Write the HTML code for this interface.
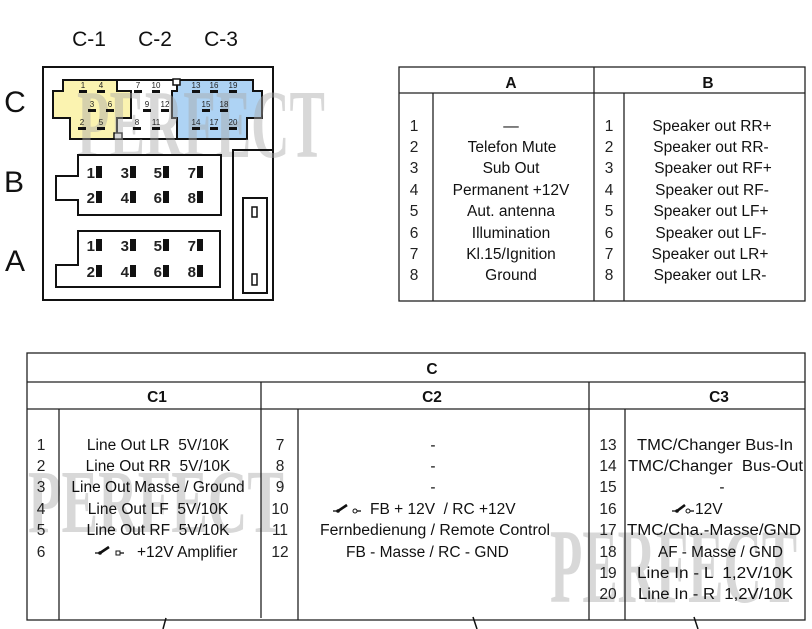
<!DOCTYPE html>
<html>
<head>
<meta charset="utf-8">
<style>
  html,body{margin:0;padding:0;background:#fff;}
  svg{display:block;}
  .t{font-family:"Liberation Sans",Arial,sans-serif;font-size:15.5px;fill:#111;white-space:pre;}
  .n{font-family:"Liberation Sans",Arial,sans-serif;font-size:15.5px;fill:#222;}
  .h{font-family:"Liberation Sans",Arial,sans-serif;font-size:15.5px;font-weight:bold;fill:#111;}
  .pn{font-family:"Liberation Sans",Arial,sans-serif;font-size:8px;fill:#222;text-anchor:middle;}
  .bn{font-family:"Liberation Sans",Arial,sans-serif;font-size:15px;font-weight:bold;fill:#222;text-anchor:end;}
  .wm{font-family:"Liberation Serif","DejaVu Serif",serif;font-weight:bold;fill:#a8a8a8;fill-opacity:0.45;}
</style>
</head>
<body>
<svg width="812" height="629" viewBox="0 0 812 629" xmlns="http://www.w3.org/2000/svg" xml:space="preserve">
  <rect x="0" y="0" width="812" height="629" fill="#fff"/>

  <!-- ===== Connector diagram ===== -->
  <g font-family="Liberation Sans, Arial, sans-serif" fill="#111">
    <text x="89" y="46" font-size="21" text-anchor="middle">C-1</text>
    <text x="155" y="46" font-size="21" text-anchor="middle">C-2</text>
    <text x="221" y="46" font-size="21" text-anchor="middle">C-3</text>
    <text x="15" y="112" font-size="30" text-anchor="middle">C</text>
    <text x="14" y="192" font-size="30" text-anchor="middle">B</text>
    <text x="15" y="271" font-size="30" text-anchor="middle">A</text>
  </g>

  <!-- outer box -->
  <rect x="43" y="67" width="230" height="233" fill="none" stroke="#111" stroke-width="2"/>

  <!-- C connector -->
  <polygon points="117,80 177,80 177,139 117,139" fill="#fff" stroke="#111" stroke-width="1.5"/>
  <polygon points="63,80 117,80 117,91 131,91 131,118 117,118 117,139 70,139 70,118 53,118 53,91 63,91" fill="#fbf3b0" stroke="#111" stroke-width="2"/>
  <polygon points="177,80 253,80 253,91 262,91 262,118 247,118 247,139 177,139 177,118 172,118 172,91 177,91" fill="#aed3f4" stroke="#111" stroke-width="2"/>
  <line x1="63" y1="80" x2="253" y2="80" stroke="#111" stroke-width="2"/>
  <line x1="70" y1="139" x2="247" y2="139" stroke="#111" stroke-width="2"/>
  <rect x="173" y="79" width="7" height="6" fill="#fff" stroke="#111" stroke-width="1.5"/>
  <rect x="114" y="133" width="8" height="6" fill="#fff" stroke="#111" stroke-width="1.5"/>

  <!-- top watermark -->
  <text class="wm" x="77" y="157" font-size="98" textLength="248" lengthAdjust="spacingAndGlyphs">PERFECT</text>

  <!-- C pins -->
  <g>
    <text class="pn" x="83" y="88">1</text><rect x="79" y="90" width="8" height="3" fill="#111"/>
    <text class="pn" x="101" y="88">4</text><rect x="97" y="90" width="8" height="3" fill="#111"/>
    <text class="pn" x="138" y="88">7</text><rect x="134" y="90" width="8" height="3" fill="#111"/>
    <text class="pn" x="156" y="88">10</text><rect x="152" y="90" width="8" height="3" fill="#111"/>
    <text class="pn" x="196" y="88">13</text><rect x="192" y="90" width="8" height="3" fill="#111"/>
    <text class="pn" x="214" y="88">16</text><rect x="210" y="90" width="8" height="3" fill="#111"/>
    <text class="pn" x="233" y="88">19</text><rect x="229" y="90" width="8" height="3" fill="#111"/>
    <text class="pn" x="92" y="107">3</text><rect x="88" y="109" width="8" height="3" fill="#111"/>
    <text class="pn" x="110" y="107">6</text><rect x="106" y="109" width="8" height="3" fill="#111"/>
    <text class="pn" x="147" y="107">9</text><rect x="143" y="109" width="8" height="3" fill="#111"/>
    <text class="pn" x="165" y="107">12</text><rect x="161" y="109" width="8" height="3" fill="#111"/>
    <text class="pn" x="206" y="107">15</text><rect x="202" y="109" width="8" height="3" fill="#111"/>
    <text class="pn" x="224" y="107">18</text><rect x="220" y="109" width="8" height="3" fill="#111"/>
    <text class="pn" x="82" y="125">2</text><rect x="78" y="127" width="8" height="3" fill="#111"/>
    <text class="pn" x="101" y="125">5</text><rect x="97" y="127" width="8" height="3" fill="#111"/>
    <text class="pn" x="137" y="125">8</text><rect x="133" y="127" width="8" height="3" fill="#111"/>
    <text class="pn" x="156" y="125">11</text><rect x="152" y="127" width="8" height="3" fill="#111"/>
    <text class="pn" x="196" y="125">14</text><rect x="192" y="127" width="8" height="3" fill="#111"/>
    <text class="pn" x="214" y="125">17</text><rect x="210" y="127" width="8" height="3" fill="#111"/>
    <text class="pn" x="233" y="125">20</text><rect x="229" y="127" width="8" height="3" fill="#111"/>
  </g>

  <!-- B connector -->
  <polygon points="78,155 221,155 221,215 78,215 78,200 56,200 56,176 78,176" fill="#fff" stroke="#111" stroke-width="2"/>
  <g>
    <text class="bn" x="95" y="178">1</text><rect x="96" y="166" width="6" height="12" fill="#111"/>
    <text class="bn" x="129" y="178">3</text><rect x="130" y="166" width="6" height="12" fill="#111"/>
    <text class="bn" x="162" y="178">5</text><rect x="163" y="166" width="6" height="12" fill="#111"/>
    <text class="bn" x="196" y="178">7</text><rect x="197" y="166" width="6" height="12" fill="#111"/>
    <text class="bn" x="95" y="203">2</text><rect x="96" y="191" width="6" height="12" fill="#111"/>
    <text class="bn" x="129" y="203">4</text><rect x="130" y="191" width="6" height="12" fill="#111"/>
    <text class="bn" x="162" y="203">6</text><rect x="163" y="191" width="6" height="12" fill="#111"/>
    <text class="bn" x="196" y="203">8</text><rect x="197" y="191" width="6" height="12" fill="#111"/>
  </g>

  <!-- A connector -->
  <polygon points="78,231 220,231 220,287 56,287 56,265 78,265" fill="#fff" stroke="#111" stroke-width="2"/>
  <g>
    <text class="bn" x="95" y="251">1</text><rect x="96" y="239" width="6" height="12" fill="#111"/>
    <text class="bn" x="129" y="251">3</text><rect x="130" y="239" width="6" height="12" fill="#111"/>
    <text class="bn" x="162" y="251">5</text><rect x="163" y="239" width="6" height="12" fill="#111"/>
    <text class="bn" x="196" y="251">7</text><rect x="197" y="239" width="6" height="12" fill="#111"/>
    <text class="bn" x="95" y="277">2</text><rect x="96" y="265" width="6" height="12" fill="#111"/>
    <text class="bn" x="129" y="277">4</text><rect x="130" y="265" width="6" height="12" fill="#111"/>
    <text class="bn" x="162" y="277">6</text><rect x="163" y="265" width="6" height="12" fill="#111"/>
    <text class="bn" x="196" y="277">8</text><rect x="197" y="265" width="6" height="12" fill="#111"/>
  </g>

  <!-- right side box -->
  <polyline points="233,300 233,150 273,150" fill="none" stroke="#111" stroke-width="2"/>
  <rect x="243" y="198" width="24" height="95" fill="none" stroke="#111" stroke-width="2"/>
  <rect x="252" y="207" width="5" height="10" fill="none" stroke="#111" stroke-width="1.5"/>
  <rect x="252" y="274" width="5" height="11" fill="none" stroke="#111" stroke-width="1.5"/>

  <!-- ===== Table A / B ===== -->
  <g stroke="#222" stroke-width="1.3" fill="none">
    <rect x="399" y="67" width="406" height="234"/>
    <line x1="399" y1="93" x2="805" y2="93"/>
    <line x1="594" y1="67" x2="594" y2="301"/>
    <line x1="433" y1="93" x2="433" y2="301"/>
    <line x1="624" y1="93" x2="624" y2="301"/>
  </g>
  <text class="h" x="511" y="88" text-anchor="middle" font-size="16">A</text>
  <text class="h" x="708" y="88" text-anchor="middle" font-size="16">B</text>
  <g text-anchor="middle">
    <text class="n" x="414" y="131">1</text><text class="t" x="511" y="131">—</text>
    <text class="n" x="414" y="152">2</text><text class="t" x="512" y="152">Telefon Mute</text>
    <text class="n" x="414" y="173">3</text><text class="t" x="511" y="173">Sub Out</text>
    <text class="n" x="414" y="195">4</text><text class="t" x="511" y="195">Permanent +12V</text>
    <text class="n" x="414" y="216">5</text><text class="t" x="511" y="216">Aut. antenna</text>
    <text class="n" x="414" y="238">6</text><text class="t" x="511" y="238">Illumination</text>
    <text class="n" x="414" y="259">7</text><text class="t" x="511" y="259">Kl.15/Ignition</text>
    <text class="n" x="414" y="280">8</text><text class="t" x="511" y="280">Ground</text>

    <text class="n" x="609" y="131">1</text><text class="t" x="712" y="131">Speaker out RR+</text>
    <text class="n" x="609" y="152">2</text><text class="t" x="711" y="152">Speaker out RR-</text>
    <text class="n" x="609" y="173">3</text><text class="t" x="713" y="173">Speaker out RF+</text>
    <text class="n" x="609" y="195">4</text><text class="t" x="712" y="195">Speaker out RF-</text>
    <text class="n" x="609" y="216">5</text><text class="t" x="711" y="216">Speaker out LF+</text>
    <text class="n" x="609" y="238">6</text><text class="t" x="711" y="238">Speaker out LF-</text>
    <text class="n" x="609" y="259">7</text><text class="t" x="710" y="259">Speaker out LR+</text>
    <text class="n" x="609" y="280">8</text><text class="t" x="710" y="280">Speaker out LR-</text>
  </g>

  <!-- ===== Bottom table C ===== -->
  <text class="wm" x="28" y="532" font-size="90" textLength="256" lengthAdjust="spacingAndGlyphs">PERFECT</text>
  <text class="wm" x="550" y="602" font-size="106" textLength="247" lengthAdjust="spacingAndGlyphs">PERFECT</text>

  <g stroke="#222" stroke-width="1.3" fill="none">
    <rect x="27" y="353" width="778" height="267"/>
    <line x1="27" y1="382" x2="805" y2="382"/>
    <line x1="27" y1="409" x2="805" y2="409"/>
    <line x1="261" y1="382" x2="261" y2="618"/>
    <line x1="589" y1="382" x2="589" y2="620"/>
    <line x1="59" y1="409" x2="59" y2="620"/>
    <line x1="298" y1="409" x2="298" y2="620"/>
    <line x1="625" y1="409" x2="625" y2="620"/>
  </g>
  <text class="h" x="432" y="374" text-anchor="middle">C</text>
  <text class="h" x="157" y="402" text-anchor="middle">C1</text>
  <text class="h" x="432" y="402" text-anchor="middle">C2</text>
  <text class="h" x="719" y="402" text-anchor="middle">C3</text>

  <!-- C1 rows -->
  <g text-anchor="middle">
    <text class="n" x="41" y="450">1</text><text class="t" x="158" y="450">Line Out LR  5V/10K</text>
    <text class="n" x="41" y="471">2</text><text class="t" x="158" y="471">Line Out RR  5V/10K</text>
    <text class="n" x="41" y="492">3</text><text class="t" x="158" y="492">Line Out Masse / Ground</text>
    <text class="n" x="41" y="514">4</text><text class="t" x="158" y="514">Line Out LF  5V/10K</text>
    <text class="n" x="41" y="535">5</text><text class="t" x="158" y="535">Line Out RF  5V/10K</text>
    <text class="n" x="41" y="557">6</text>
  </g>
  <text class="t" x="137" y="557">+12V Amplifier</text>

  <!-- C2 rows -->
  <g text-anchor="middle">
    <text class="n" x="280" y="450">7</text><text class="t" x="433" y="450">-</text>
    <text class="n" x="280" y="471">8</text><text class="t" x="433" y="471">-</text>
    <text class="n" x="280" y="492">9</text><text class="t" x="433" y="492">-</text>
    <text class="n" x="280" y="514">10</text>
    <text class="n" x="280" y="535">11</text>
    <text class="n" x="280" y="557">12</text>
  </g>
  <text class="t" x="370" y="514">FB + 12V  / RC +12V</text>
  <text class="t" x="320" y="535" textLength="230" lengthAdjust="spacingAndGlyphs">Fernbedienung / Remote Control</text>
  <text class="t" x="346" y="557">FB - Masse / RC - GND</text>

  <!-- C3 rows -->
  <g text-anchor="middle">
    <text class="n" x="608" y="450">13</text>
    <text class="n" x="608" y="471">14</text>
    <text class="n" x="608" y="492">15</text><text class="t" x="722" y="492">-</text>
    <text class="n" x="608" y="514">16</text>
    <text class="n" x="608" y="535">17</text>
    <text class="n" x="608" y="557">18</text>
    <text class="n" x="608" y="578">19</text>
    <text class="n" x="608" y="599">20</text>
  </g>
  <text class="t" x="637" y="450" textLength="156" lengthAdjust="spacingAndGlyphs">TMC/Changer Bus-In</text>
  <text class="t" x="628" y="471" textLength="175" lengthAdjust="spacingAndGlyphs">TMC/Changer  Bus-Out</text>
  <text class="t" x="695" y="514">12V</text>
  <text class="t" x="627" y="535" textLength="174" lengthAdjust="spacingAndGlyphs">TMC/Cha.-Masse/GND</text>
  <text class="t" x="658" y="557" textLength="125" lengthAdjust="spacingAndGlyphs">AF - Masse / GND</text>
  <text class="t" x="637" y="578" textLength="156" lengthAdjust="spacingAndGlyphs">Line In - L  1,2V/10K</text>
  <text class="t" x="638" y="599" textLength="155" lengthAdjust="spacingAndGlyphs">Line In - R  1,2V/10K</text>

  <!-- switch icons -->
  <g stroke="#111" fill="none">
    <line x1="95" y1="553" x2="100" y2="553" stroke-width="1.3"/>
    <line x1="100" y1="553" x2="109" y2="547" stroke-width="2.6"/>
    <circle cx="100" cy="553" r="1.8" fill="#111" stroke="none"/>
    <rect x="116" y="551" width="4" height="4" stroke-width="1"/>
    <line x1="120" y1="553" x2="124" y2="553" stroke-width="1.3"/>
  </g>
  <g stroke="#111" fill="none">
    <line x1="333" y1="511" x2="338" y2="511" stroke-width="1.3"/>
    <line x1="338" y1="511" x2="347" y2="505" stroke-width="2.6"/>
    <circle cx="338" cy="511" r="1.8" fill="#111" stroke="none"/>
    <circle cx="355" cy="511" r="2" stroke-width="1"/>
    <line x1="357" y1="511" x2="361" y2="511" stroke-width="1.3"/>
  </g>
  <g stroke="#111" fill="none">
    <line x1="672" y1="511" x2="677" y2="511" stroke-width="1.3"/>
    <line x1="677" y1="511" x2="685" y2="505" stroke-width="2.6"/>
    <circle cx="677" cy="511" r="1.8" fill="#111" stroke="none"/>
    <circle cx="688" cy="511" r="2" stroke-width="1"/>
    <line x1="690" y1="511" x2="694" y2="511" stroke-width="1.3"/>
  </g>

  <!-- tick marks below table -->
  <g stroke="#111" stroke-width="1.5">
    <line x1="166" y1="618" x2="163" y2="629"/>
    <line x1="473" y1="617" x2="477" y2="629"/>
    <line x1="694" y1="617" x2="698" y2="629"/>
  </g>
</svg>
</body>
</html>
